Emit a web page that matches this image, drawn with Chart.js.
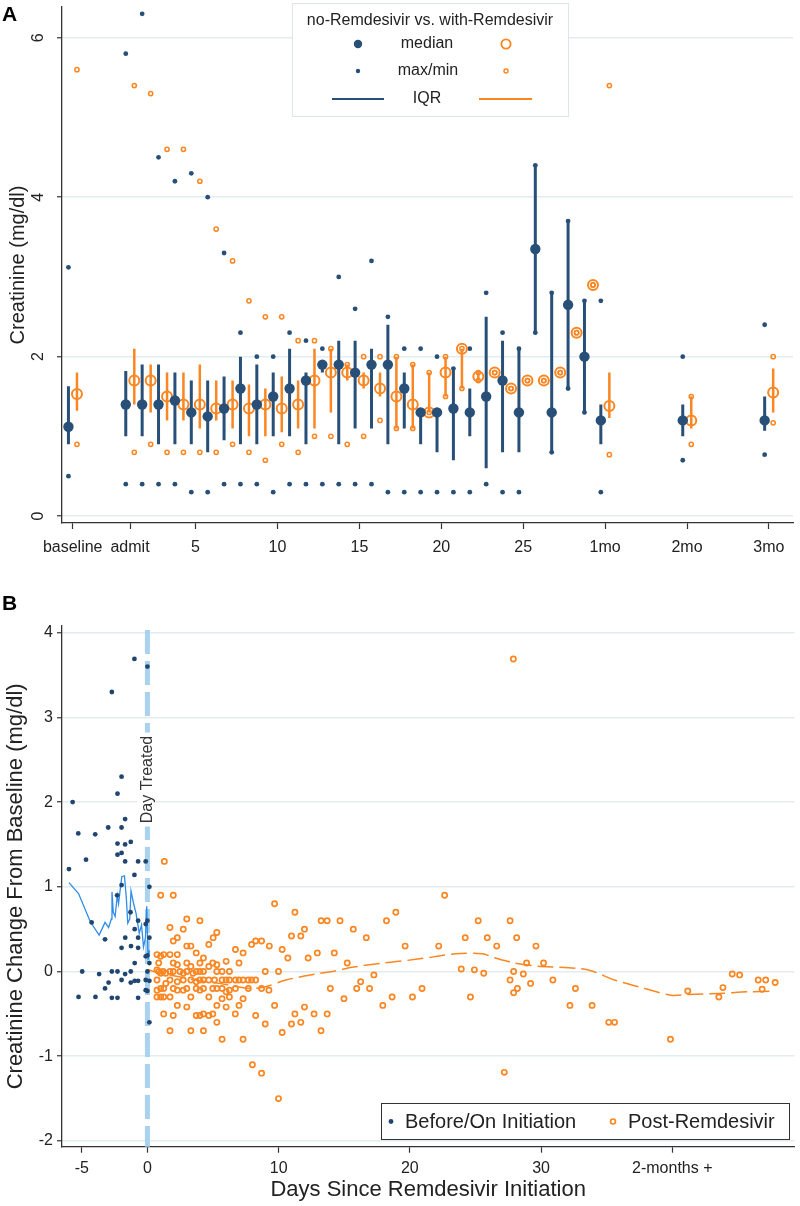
<!DOCTYPE html>
<html>
<head>
<meta charset="utf-8">
<script src="https://cdn.jsdelivr.net/npm/chart.js@4.4.1/dist/chart.umd.min.js"></script>
<style>
  body { margin: 0; background: #fff; width: 800px; height: 1206px; position: relative; overflow: hidden;
         font-family: "Liberation Sans", Arial, sans-serif; }
  .panel { position: absolute; left: 0; width: 800px; }
  .tag { position: absolute; left: 2px; font-weight: bold; font-size: 21px; line-height: 21px; color: #000; }
</style>
</head>
<body>
<div class="panel" style="top:0;height:590px"><canvas id="chartA"></canvas></div>
<div class="panel" style="top:590px;height:616px"><canvas id="chartB"></canvas></div>
<div class="tag" style="top:3px">A</div>
<div class="tag" style="top:592px">B</div>
<script>
// ---------- panel A : creatinine by day ----------
// positions: baseline, admit(1), days 2..29, 1mo(30), 2mo(35), 3mo(40)
const dayA = [-2.5, 1, 2, 3, 4, 5, 6, 7, 8, 9, 10, 11, 12, 13, 14, 15, 16, 17, 18, 19, 20,
              21, 22, 23, 24, 25, 26, 27, 28, 29, 30, 35, 40];
const xTickValsA = [-2.5, 1, 5, 10, 15, 20, 25, 30, 35, 40];
const xTickLabelsA = ['baseline', 'admit', '5', '10', '15', '20', '25', '1mo', '2mo', '3mo'];
const yTicksA = [0, 2, 4, 6];

// no-Remdesivir
const noMed = [1.12, 1.4, 1.4, 1.4, 1.45, 1.3, 1.25, 1.35, 1.6, 1.4, 1.5, 1.6, 1.7, 1.9, 1.9, 1.8, 1.9, 1.9, 1.6, 1.3, 1.3,
               1.35, 1.3, 1.5, 1.7, 1.3, 3.35, 1.3, 2.65, 2.0, 1.2, 1.2, 1.2];
const noQ1  = [0.9, 1.0, 1.0, 0.9, 0.9, 0.9, 0.8, 0.95, 0.9, 0.9, 1.0, 1.0, 0.9, 1.8, 0.9, 1.1, 1.1, 0.9, 1.1, 0.9, 0.8,
               0.7, 1.0, 0.6, 0.8, 0.8, 2.3, 0.8, 1.6, 1.3, 0.9, 1.0, 1.07];
const noQ3  = [1.63, 1.82, 1.9, 1.9, 1.8, 1.7, 1.7, 1.75, 2.0, 1.9, 1.8, 2.1, 1.8, 1.9, 2.2, 2.2, 2.1, 2.4, 1.8, 1.3, 1.3,
               1.85, 1.6, 2.5, 2.2, 2.1, 4.4, 2.8, 3.7, 2.7, 1.4, 1.4, 1.5];
const noMax = [3.12, 5.8, 6.3, 4.5, 4.2, 4.3, 4.0, 3.3, 2.3, 2.0, 2.0, 2.3, 2.2, 2.1, 3.0, 2.6, 3.2, 2.5, 2.1, 2.1, 2.0,
               1.85, 2.1, 2.8, 2.3, 2.1, 4.4, 2.8, 3.7, 2.7, 2.7, 2.0, 2.4];
const noMin = [0.5, 0.4, 0.4, 0.4, 0.4, 0.3, 0.3, 0.4, 0.4, 0.4, 0.3, 0.4, 0.4, 0.4, 0.4, 0.4, 0.4, 0.3, 0.3, 0.3, 0.3,
               0.3, 0.3, 0.4, 0.3, 0.3, 2.3, 0.8, 1.6, 1.3, 0.3, 0.7, 0.77];

// with-Remdesivir
const wMed = [1.53, 1.7, 1.7, 1.5, 1.4, 1.4, 1.35, 1.4, 1.35, 1.4, 1.35, 1.4, 1.7, 1.8, 1.8, 1.7, 1.6, 1.5, 1.4, 1.3, 1.8,
              2.1, 1.75, 1.8, 1.6, 1.7, 1.7, 1.8, 2.3, 2.9, 1.38, 1.2, 1.55];
const wQ1  = [1.32, 1.4, 1.3, 1.2, 1.2, 1.1, 1.2, 1.1, 1.0, 1.0, 1.05, 1.1, 1.1, 1.3, 1.7, 1.6, 1.5, 1.1, 1.1, 1.3, 1.5,
              1.6, 1.7, 1.8, 1.6, 1.7, 1.7, 1.8, 2.3, 2.9, 1.23, 1.1, 1.3];
const wQ3  = [1.8, 2.1, 1.9, 1.8, 1.8, 1.9, 1.7, 1.7, 1.65, 1.6, 1.75, 1.7, 2.1, 2.1, 1.9, 1.8, 1.8, 2.0, 1.9, 1.8, 2.0,
              2.1, 1.8, 1.8, 1.6, 1.7, 1.7, 1.8, 2.3, 2.9, 1.8, 1.5, 1.85];
const wMax = [5.6, 5.4, 5.3, 4.6, 4.6, 4.2, 3.6, 3.2, 2.7, 2.5, 2.5, 2.2, 2.2, 2.1, 1.9, 2.0, 2.0, 2.0, 1.9, 1.8, 2.0,
              2.1, 1.8, 1.8, 1.6, 1.7, 1.7, 1.8, 2.3, 2.9, 5.4, 1.5, 2.0];
const wMin = [0.9, 0.8, 0.9, 0.8, 0.8, 0.8, 0.8, 0.9, 0.8, 0.7, 0.9, 0.8, 1.0, 1.0, 0.9, 1.0, 1.2, 1.1, 1.1, 1.3, 1.5,
              1.6, 1.7, 1.8, 1.6, 1.7, 1.7, 1.8, 2.3, 2.9, 0.77, 0.9, 1.17];

// ---------- panel B : change from baseline ----------
const xTickValsB = [-5, 0, 10, 20, 30, 40];
const xTickLabelsB = ['-5', '0', '10', '20', '30', '2-months +'];
const yTicksB = [-2, -1, 0, 1, 2, 3, 4];
const treatDay = 0;

const preDay = [-5.98, -5.7, -5.27, -4.68, -3.98, -2.99, -2.71, -2.28, -2.28, -2.28, -1.97, -1.97, -1.97,
  -1.7, -1.7, -1.7, -1.27, -0.99, -0.99, -0.71, -0.13, 0.0, 0.15, -2.31, -1.97, -1.29,
  -4.25, -3.23, -1.97, -1.69, -1.25, -0.97, -0.97, -0.71, -0.71, -0.71, -0.13, 0.0, 0.15, -0.13, 0.0, 0.15, 0.0,
  -4.97, -3.68, -2.71, -2.28, -1.7, -1.27, -2.96, -1.97, -1.27, -0.97, -0.71, -0.13, 0.15, 0.0, -0.13,
  -3.23, -5.25, -3.96, -2.71, -2.28, -0.71, 0.15];
const preChange = [1.21, 2.0, 1.63, 1.32, 1.62, 1.7, 3.3, 2.1, 1.51, 1.38, 2.3, 1.7, 1.4,
  1.8, 1.5, 1.3, 1.53, 3.69, 1.14, 1.3, 1.3, 3.6, 1.0, 0.9, 1.02, 0.7,
  0.58, 0.38, 0.28, 0.4, 0.3, 0.5, 0.1, 0.4, 0.28, 0.6, 0.56, 0.6, 0.4, 0.18, 0.19, 0.1, 0.0,
  0.0, -0.03, 0.0, 0.0, -0.03, 0.0, -0.13, -0.1, -0.13, -0.11, -0.11, -0.1, -0.11, -0.23, -0.22,
  -0.2, -0.3, -0.3, -0.31, -0.31, -0.31, -0.6];

const postDay = [
  1.01, 1.97, 22.65, 1.29, 27.89, 9.69, 11.24, 18.93,
  4.0, 13.24, 13.7, 14.68, 18.22, 25.21, 27.64, 3.0, 1.72,
  2.73, 11.97, 15.69, 5.29, 10.98, 11.69,
  2.28, 5.01, 16.68, 24.22, 25.9, 28.14,
  1.97, 8.25, 8.7, 4.68, 7.94,
  3.0, 3.31, 9.29, 19.64, 22.2, 26.62, 29.61,
  6.71, 10.27, 3.72, 7.29, 12.95, 14.24,
  0.73, 1.24, 1.72, 2.28, 1.01, 4.27, 10.7, 12.25, 6.0,
  0.86, 1.97, 3.0, 4.0, 4.98, 6.98, 15.23, 28.9, 30.19,
  2.28, 5.29, 3.31, 4.68, 23.92, 0.73, 24.92,
  0.86, 1.19, 1.72, 1.97, 2.48, 3.0, 3.72, 4.0, 4.27, 5.29, 5.69, 6.25, 8.98, 9.99, 27.91,
  1.01, 1.4, 2.73, 3.47, 25.63, 28.65, 44.57, 17.26, 45.13,
  0.73, 1.72, 2.73, 3.31, 4.0, 4.27, 4.68, 5.11, 5.69, 6.0, 6.25, 6.71, 6.98, 7.29, 7.69, 7.94, 8.25, 27.64, 30.9, 46.55, 47.12,
  2.28, 3.72, 16.25, 47.84, 1.4, 29.2, 43.86,
  1.01, 1.24, 1.97, 3.0, 3.72, 4.27, 4.98, 5.29, 5.69, 6.71, 7.69, 8.7, 13.94, 15.95, 16.93, 20.93, 28.2, 32.62,
  46.85, 0.73, 2.28, 2.73, 4.0, 6.25, 9.26, 41.18, 6.0, 27.91,
  0.73, 1.01, 1.24, 1.72, 3.31, 4.68, 6.25, 18.65, 20.2, 24.62, 43.55,
  5.69, 7.29, 14.98,
  2.28, 5.29, 6.98, 9.69, 17.94, 32.2, 33.89,
  3.0, 6.0, 11.97,
  1.24, 4.27, 4.98, 6.7, 11.24, 12.7, 13.7,
  1.97, 3.72, 4.0, 4.68, 8.25,
  5.29, 11.69, 35.16, 35.6, 8.98, 10.98,
  1.72, 3.31, 4.27, 13.23, 10.27,
  5.69, 7.29, 39.86, 8.0, 27.2, 8.7, 9.99
];
const postChange = [
  0.9, 0.9, 0.9, 1.3, 3.69, 0.8, 0.7, 0.7,
  0.6, 0.6, 0.6, 0.6, 0.6, 0.6, 0.6, 0.62, 0.52,
  0.5, 0.5, 0.5, 0.46, 0.42, 0.42,
  0.4, 0.4, 0.4, 0.4, 0.4, 0.4,
  0.36, 0.36, 0.36, 0.32, 0.32,
  0.3, 0.3, 0.3, 0.3, 0.3, 0.3, 0.3,
  0.26, 0.26, 0.22, 0.22, 0.22, 0.22,
  0.2, 0.2, 0.2, 0.2, 0.18, 0.16, 0.16, 0.16, 0.12,
  0.1, 0.1, 0.1, 0.1, 0.1, 0.1, 0.1, 0.1, 0.1,
  0.08, 0.08, 0.06, 0.06, 0.03, 0.02, 0.02,
  0, 0, 0, 0, 0, 0, 0, 0, 0, 0, 0, 0, 0, 0, 0,
  -0.02, -0.02, -0.02, -0.02, -0.02, -0.03, -0.03, -0.04, -0.04,
  -0.1, -0.1, -0.1, -0.1, -0.1, -0.1, -0.1, -0.1, -0.1, -0.1, -0.1, -0.1, -0.1, -0.1, -0.1, -0.1, -0.1, -0.1, -0.1, -0.1, -0.1,
  -0.12, -0.12, -0.12, -0.13, -0.14, -0.14, -0.19,
  -0.2, -0.2, -0.2, -0.2, -0.2, -0.2, -0.2, -0.2, -0.2, -0.2, -0.2, -0.2, -0.2, -0.2, -0.2, -0.2, -0.2, -0.2,
  -0.21, -0.22, -0.22, -0.22, -0.22, -0.22, -0.22, -0.23, -0.24, -0.25,
  -0.3, -0.3, -0.3, -0.3, -0.3, -0.3, -0.3, -0.3, -0.3, -0.3, -0.3,
  -0.32, -0.32, -0.32,
  -0.4, -0.4, -0.4, -0.4, -0.4, -0.4, -0.4,
  -0.42, -0.42, -0.42,
  -0.5, -0.5, -0.5, -0.5, -0.5, -0.5, -0.5,
  -0.52, -0.52, -0.52, -0.52, -0.52,
  -0.6, -0.6, -0.6, -0.6, -0.62, -0.62,
  -0.7, -0.7, -0.7, -0.7, -0.72,
  -0.8, -0.8, -0.8, -1.1, -1.19, -1.2, -1.5
];

// smoothed lines
const preFitDay = [-5.98, -5.25, -4.36, -3.68, -3.23, -2.96, -2.75, -2.7, -2.6, -2.46, -2.3, -2.2, -2.05, -1.95,
  -1.75, -1.6, -1.5, -1.35, -1.25, -1.05, -0.87, -0.62, -0.45, -0.3, -0.15, -0.05, 0.05, 0.15];
const preFitChange = [1.05, 0.92, 0.59, 0.43, 0.58, 0.52, 0.62, 0.94, 0.7, 0.65, 0.9, 0.8, 1.0, 1.12,
  1.13, 0.85, 0.57, 0.62, 0.95, 0.8, 0.69, 0.45, 0.55, 0.29, 0.4, 0.77, 0.14, 0.25];
const postFitDay = [0.05, 1, 2, 3, 4, 5.5, 7.8, 9, 10.55, 12.83, 14.1, 15.6, 17.9, 19.2, 21.7, 23.5, 25.5, 26.5,
  28, 30, 32.6, 33.8, 35.6, 37.9, 39.9, 41.2, 43.5, 45.7, 47.8];
const postFitChange = [0.02, -0.02, -0.05, -0.08, -0.11, -0.14, -0.2, -0.18, -0.1, -0.03, 0.0, 0.05, 0.1, 0.12, 0.17,
  0.21, 0.21, 0.16, 0.1, 0.06, 0.04, 0.01, -0.1, -0.2, -0.28, -0.27, -0.26, -0.24, -0.23];

// ---------- styling ----------
const NAVY = '#284f78';
const NAVY_B = '#1f4570';
const ORANGE = '#fb8622';
const BLUE = '#2f8ce8';
const GRID = '#e2ecf1';
const AXIS = '#333';
const FONT = '"Liberation Sans", Arial, sans-serif';

Chart.defaults.font.family = FONT;
Chart.defaults.color = '#222';
Chart.defaults.animation = false;

function pts(xs, ys) { return xs.map((x, i) => ({ x: x, y: ys[i] })); }
// vertical segments separated by gaps
function segs(xs, lo, hi) {
  const out = [];
  xs.forEach((x, i) => { out.push({ x: x, y: lo[i] }, { x: x, y: hi[i] }, { x: x, y: null }); });
  return out;
}

const navyPos = dayA.map(d => d - 0.26);
const orangePos = dayA.map(d => d + 0.26);

// legend + rotated y tick labels for panel A
const panelADecor = {
  id: 'panelADecor',
  afterDraw(chart) {
    const ctx = chart.ctx;
    const ys = chart.scales.y;
    ctx.save();
    ctx.fillStyle = '#222';
    ctx.font = '16px ' + FONT;
    ctx.textAlign = 'center';
    ctx.textBaseline = 'middle';
    yTicksA.forEach(v => {
      ctx.save();
      ctx.translate(38, ys.getPixelForValue(v));
      ctx.rotate(-Math.PI / 2);
      ctx.fillText(String(v), 0, 1);
      ctx.restore();
    });

    // legend box
    ctx.fillStyle = '#fff';
    ctx.fillRect(292.5, 3.5, 276, 113);
    ctx.strokeStyle = '#d9e6ec';
    ctx.lineWidth = 1;
    ctx.strokeRect(292.5, 3.5, 276, 113);
    ctx.fillStyle = '#222';
    ctx.fillText('no-Remdesivir vs. with-Remdesivir', 430, 21);
    ctx.fillText('median', 427, 44);
    ctx.fillText('max/min', 428, 71);
    ctx.fillText('IQR', 427, 99);

    ctx.fillStyle = NAVY;
    ctx.beginPath(); ctx.arc(358, 44, 4.2, 0, Math.PI * 2); ctx.fill();
    ctx.beginPath(); ctx.arc(358, 71, 2.2, 0, Math.PI * 2); ctx.fill();
    ctx.strokeStyle = ORANGE;
    ctx.lineWidth = 1.9;
    ctx.beginPath(); ctx.arc(506, 44, 4.6, 0, Math.PI * 2); ctx.stroke();
    ctx.lineWidth = 1.4;
    ctx.beginPath(); ctx.arc(506, 71, 2, 0, Math.PI * 2); ctx.stroke();
    ctx.lineWidth = 2.2;
    ctx.strokeStyle = NAVY;
    ctx.beginPath(); ctx.moveTo(332, 99); ctx.lineTo(384, 99); ctx.stroke();
    ctx.strokeStyle = ORANGE;
    ctx.beginPath(); ctx.moveTo(479, 99); ctx.lineTo(532, 99); ctx.stroke();
    ctx.restore();
  }
};

new Chart(document.getElementById('chartA'), {
  type: 'scatter',
  data: {
    datasets: [
      { label: 'median no', data: pts(navyPos, noMed), pointRadius: 5.2, pointBorderWidth: 0,
        pointBackgroundColor: NAVY, pointBorderColor: NAVY },
      { label: 'median with', data: pts(orangePos, wMed), pointRadius: 5, pointBorderWidth: 2,
        pointBackgroundColor: 'rgba(0,0,0,0)', pointBorderColor: ORANGE },
      { label: 'max/min no', data: pts(navyPos, noMax).concat(pts(navyPos, noMin)), pointRadius: 2.4,
        pointBorderWidth: 0, pointBackgroundColor: NAVY, pointBorderColor: NAVY },
      { label: 'max/min with', data: pts(orangePos, wMax).concat(pts(orangePos, wMin)), pointRadius: 2.1,
        pointBorderWidth: 1.5, pointBackgroundColor: 'rgba(0,0,0,0)', pointBorderColor: ORANGE },
      { label: 'IQR no', data: segs(navyPos, noQ1, noQ3), showLine: true, spanGaps: false,
        borderColor: NAVY, borderWidth: 3, pointRadius: 0 },
      { label: 'IQR with', data: segs(orangePos, wQ1, wQ3), showLine: true, spanGaps: false,
        borderColor: ORANGE, borderWidth: 2.5, pointRadius: 0 }
    ]
  },
  options: {
    responsive: true,
    maintainAspectRatio: false,
    clip: false,
    layout: { padding: 0 },
    plugins: { legend: { display: false }, tooltip: { enabled: false } },
    scales: {
      x: {
        type: 'linear', min: -3.153, max: 41.47,
        afterBuildTicks: s => { s.ticks = xTickValsA.map(v => ({ value: v })); },
        afterFit: s => { s.height = 67; },
        grid: { drawOnChartArea: false, tickLength: 6, tickColor: AXIS, tickWidth: 1.2 },
        border: { color: AXIS, width: 1.3 },
        ticks: { autoSkip: false, maxRotation: 0, padding: 9, font: { size: 16 }, color: '#222',
                 callback: (v, i) => xTickLabelsA[i] }
      },
      y: {
        type: 'linear', min: -0.087, max: 6.386,
        afterBuildTicks: s => { s.ticks = yTicksA.map(v => ({ value: v })); },
        afterFit: s => { s.width = 62; },
        grid: { color: GRID, lineWidth: 1.5, tickLength: 5, tickColor: AXIS, tickWidth: 1.2 },
        border: { color: AXIS, width: 1.3 },
        ticks: { display: false },
        title: { display: true, text: 'Creatinine (mg/dl)', font: { size: 20 }, color: '#222',
                 padding: { top: 6, bottom: 0 } }
      }
    }
  },
  plugins: [panelADecor]
});

// treatment line and legend for panel B
const panelBDecor = {
  id: 'panelBDecor',
  beforeDatasetsDraw(chart) {
    const ctx = chart.ctx;
    const ca = chart.chartArea;
    const x = chart.scales.x.getPixelForValue(treatDay);
    ctx.save();
    ctx.strokeStyle = '#a9d2ee';
    ctx.lineWidth = 5;
    ctx.setLineDash([24, 7]);
    ctx.beginPath();
    ctx.moveTo(x, ca.top + 4);
    ctx.lineTo(x, ca.bottom);
    ctx.stroke();
    ctx.setLineDash([]);
    ctx.translate(x - 1, 189.5);
    ctx.rotate(-Math.PI / 2);
    ctx.fillStyle = '#fff';
    ctx.fillRect(-47, -9, 94, 18);
    ctx.fillStyle = '#333';
    ctx.font = '16px ' + FONT;
    ctx.textAlign = 'center';
    ctx.textBaseline = 'middle';
    ctx.fillText('Day Treated', 0, 1);
    ctx.restore();
  },
  afterDraw(chart) {
    const ctx = chart.ctx;
    ctx.save();
    ctx.fillStyle = '#fff';
    ctx.fillRect(381.5, 513.5, 408, 36);
    ctx.strokeStyle = '#333';
    ctx.lineWidth = 1;
    ctx.strokeRect(381.5, 513.5, 408, 36);
    ctx.fillStyle = NAVY_B;
    ctx.beginPath(); ctx.arc(391, 531.5, 2.4, 0, Math.PI * 2); ctx.fill();
    ctx.strokeStyle = ORANGE;
    ctx.lineWidth = 1.6;
    ctx.beginPath(); ctx.arc(613, 531.5, 2.5, 0, Math.PI * 2); ctx.stroke();
    ctx.fillStyle = '#222';
    ctx.font = '20px ' + FONT;
    ctx.textAlign = 'left';
    ctx.textBaseline = 'middle';
    ctx.fillText('Before/On Initiation', 405, 532);
    ctx.fillText('Post-Remdesivir', 628, 532);
    ctx.restore();
  }
};

new Chart(document.getElementById('chartB'), {
  type: 'scatter',
  data: {
    datasets: [
      { label: 'Before/On Initiation', data: pts(preDay, preChange), pointRadius: 2.4,
        pointBorderWidth: 0, pointBackgroundColor: NAVY_B, pointBorderColor: NAVY_B },
      { label: 'Post-Remdesivir', data: pts(postDay, postChange), pointRadius: 2.6,
        pointBorderWidth: 1.7, pointBackgroundColor: 'rgba(0,0,0,0)', pointBorderColor: ORANGE },
      { label: 'pre fit', data: pts(preFitDay, preFitChange), showLine: true, borderColor: BLUE,
        borderWidth: 1.3, pointRadius: 0, tension: 0 },
      { label: 'post fit', data: pts(postFitDay, postFitChange), showLine: true, borderColor: ORANGE,
        borderWidth: 1.5, borderDash: [16, 6], pointRadius: 0, tension: 0.3 }
    ]
  },
  options: {
    responsive: true,
    maintainAspectRatio: false,
    clip: false,
    layout: { padding: { top: 36, right: 3, left: 0, bottom: 0 } },
    plugins: { legend: { display: false }, tooltip: { enabled: false } },
    scales: {
      x: {
        type: 'linear', min: -6.51, max: 49.3,
        afterBuildTicks: s => { s.ticks = xTickValsB.map(v => ({ value: v })); },
        afterFit: s => { s.height = 59.3; },
        grid: { drawOnChartArea: false, tickLength: 6, tickColor: AXIS, tickWidth: 1.2 },
        border: { color: AXIS, width: 1.3 },
        ticks: { autoSkip: false, maxRotation: 0, padding: 6, font: { size: 16 }, color: '#222',
                 callback: (v, i) => xTickLabelsB[i] },
        title: { display: true, text: 'Days Since Remdesivir Initiation', font: { size: 22 }, color: '#222',
                 padding: { top: 0, bottom: 3 } }
      },
      y: {
        type: 'linear', min: -2.068, max: 4.079,
        afterBuildTicks: s => { s.ticks = yTicksB.map(v => ({ value: v })); },
        afterFit: s => { s.width = 62; },
        grid: { color: GRID, lineWidth: 1.5, tickLength: 5, tickColor: AXIS, tickWidth: 1.2 },
        border: { color: AXIS, width: 1.3 },
        ticks: { padding: 4, font: { size: 16 }, color: '#222' },
        title: { display: true, text: 'Creatinine Change From Baseline (mg/dl)', font: { size: 22 }, color: '#222',
                 padding: { top: 3, bottom: 0 } }
      }
    }
  },
  plugins: [panelBDecor]
});
</script>
</body>
</html>
